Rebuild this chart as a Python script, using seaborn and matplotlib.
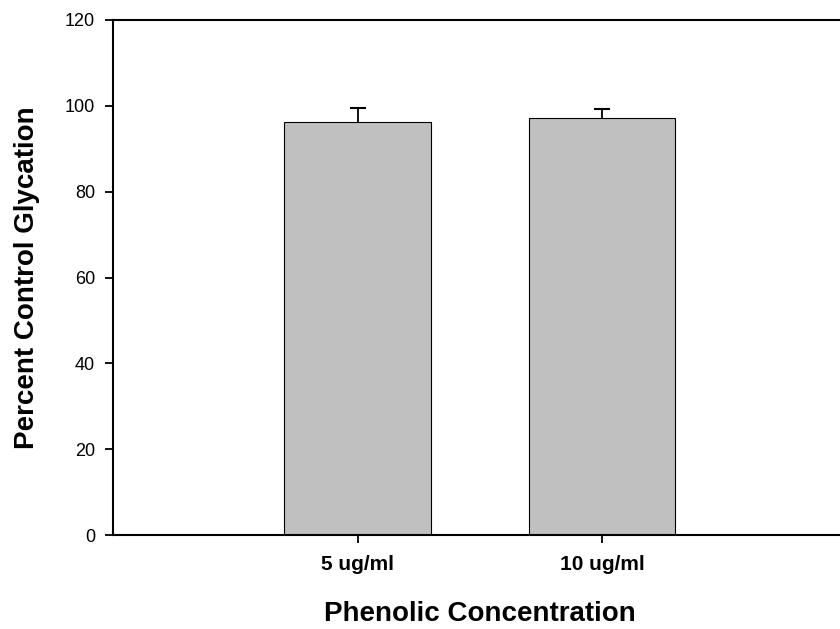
import numpy as np
import pandas as pd
import seaborn as sns
import matplotlib
matplotlib.use('Agg')
import matplotlib.pyplot as plt

# ----- Data -----
concentrations = ['5 ug/ml', '10 ug/ml']
glycation = [96.3, 97.1]      # percent of control
glycation_err = [3.3, 2.2]    # upper error only

df = pd.DataFrame({'conc': concentrations, 'glyc': glycation})

sns.set_style('ticks')
plt.rcParams['font.family'] = ['Liberation Sans', 'DejaVu Sans']
plt.rcParams['text.color'] = 'black'
plt.rcParams['axes.labelcolor'] = 'black'

fig = plt.figure(figsize=(8.4, 6.29), dpi=100)
ax = fig.add_axes([113 / 840, 94 / 629, 733.5 / 840, 515 / 629])

sns.barplot(data=df, x='conc', y='glyc', order=concentrations, color='#C0C0C0',
            saturation=1, edgecolor='black', linewidth=0.8, width=0.6,
            errorbar=None, ax=ax)

# upper-only error bars, cap only at the top
eb = ax.errorbar(x=np.arange(len(concentrations)), y=glycation,
                 yerr=[np.zeros(len(glycation_err)), glycation_err],
                 fmt='none', ecolor='black', elinewidth=1.3, capsize=5.8, capthick=1.5,
                 zorder=3)
eb.lines[1][0].set_visible(False)  # drop the lower caps

ax.set_xlim(-1, 2)
ax.set_ylim(0, 120)
ax.set_yticks(np.arange(0, 121, 20))

for side in ['left', 'bottom', 'top']:
    ax.spines[side].set_linewidth(1.5)
    ax.spines[side].set_color('black')
ax.spines['right'].set_visible(False)

ax.tick_params(axis='y', direction='out', length=5.8, width=1.3, pad=7, labelsize=13,
               colors='black', labelcolor='black')
ax.tick_params(axis='x', direction='out', length=6, width=1.3, pad=8.5, labelsize=15,
               colors='black', labelcolor='black')
for lbl in ax.get_xticklabels():
    lbl.set_fontweight('bold')

ax.set_xlabel('Phenolic Concentration', fontsize=20, fontweight='bold', color='black')
ax.set_ylabel('Percent Control Glycation', fontsize=20, fontweight='bold', color='black')
ax.xaxis.set_label_coords(0.5, -0.128)
ax.yaxis.set_label_coords(-0.099, 0.5)

fig.savefig('out.png', dpi=100)
